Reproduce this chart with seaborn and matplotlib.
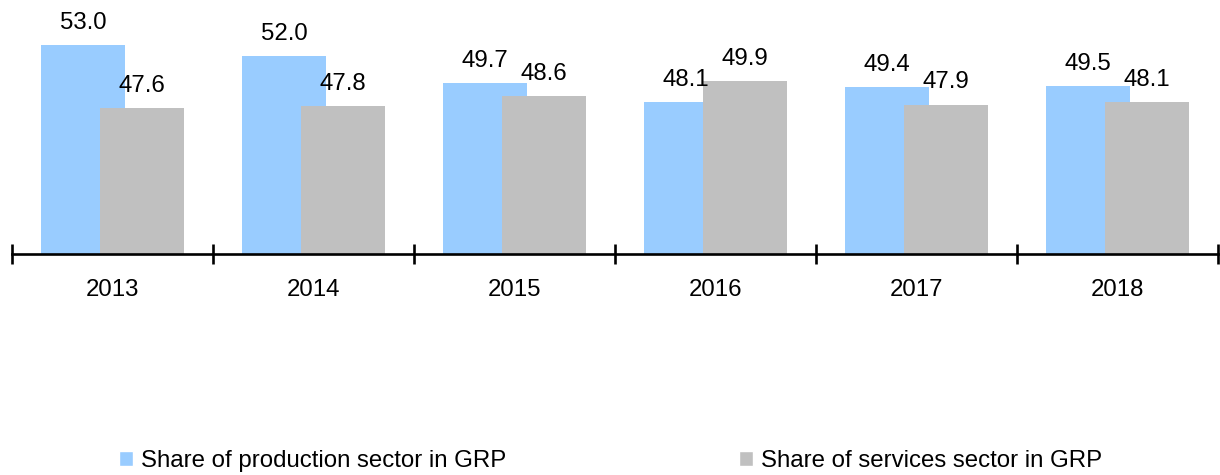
import matplotlib
matplotlib.use("Agg")
import matplotlib.pyplot as plt
import pandas as pd
import seaborn as sns

# data
years = ["2013", "2014", "2015", "2016", "2017", "2018"]
production = [53.0, 52.0, 49.7, 48.1, 49.4, 49.5]
services = [47.6, 47.8, 48.6, 49.9, 47.9, 48.1]
series = ["Share of production sector in GRP", "Share of services sector in GRP"]
colors = ["#99CCFF", "#C0C0C0"]

df = pd.DataFrame({
    "year": years * 2,
    "value": production + services,
    "series": [series[0]] * len(years) + [series[1]] * len(years),
})

sns.set_style("white")
plt.rcParams["font.family"] = ["Liberation Sans", "DejaVu Sans"]
plt.rcParams["text.color"] = "black"
plt.rcParams["xtick.color"] = "black"
plt.rcParams["xtick.labelcolor"] = "black"
FS = 17.3

fig = plt.figure(figsize=(12.2, 4.75), dpi=100)
ax = fig.add_axes([12 / 1220, (475 - 254) / 475, 1206 / 1220, 254 / 475])

sns.barplot(data=df, x="year", y="value", hue="series", palette=colors,
            width=0.585, dodge=True, saturation=1, ax=ax)

# widen bars so the two series overlap, services drawn on top
bar_w = 0.416
for c in ax.containers:
    for p in c:
        cx = p.get_x() + p.get_width() / 2
        p.set_width(bar_w)
        p.set_x(cx - bar_w / 2)
        p.set_edgecolor("none")
for p in ax.containers[0]:
    p.set_zorder(2)
for p in ax.containers[1]:
    p.set_zorder(3)

for c in ax.containers:
    ax.bar_label(c, fmt="%.1f", padding=8, fontsize=FS, color="black")

ax.set_xlim(-0.5, len(years) - 0.5)
ax.set_ylim(35.15, 56.82)
ax.set_xlabel("")
ax.set_ylabel("")
ax.set_yticks([])
for s in ["left", "right", "top"]:
    ax.spines[s].set_visible(False)
ax.spines["bottom"].set_linewidth(1.9)
ax.spines["bottom"].set_color("black")
ax.spines["bottom"].set_zorder(5)

ax.tick_params(axis="x", which="major", length=0, pad=18, labelsize=FS,
               labelcolor="black")
ax.set_xticks([i - 0.5 for i in range(len(years) + 1)], minor=True)
ax.tick_params(axis="x", which="minor", bottom=True, direction="inout",
               length=14, width=1.9, color="black")

handles, labels = ax.get_legend_handles_labels()
ax.get_legend().remove()
for h, lab, xpos in zip(handles, labels, [119 / 1220, 739 / 1220]):
    fig.legend([h], [lab], loc="center left",
               bbox_to_anchor=(xpos, 1 - 461 / 475), frameon=False,
               fontsize=FS, handlelength=0.6, handleheight=0.6,
               handletextpad=0.3, borderpad=0, borderaxespad=0)

fig.savefig("out.png", dpi=100)
